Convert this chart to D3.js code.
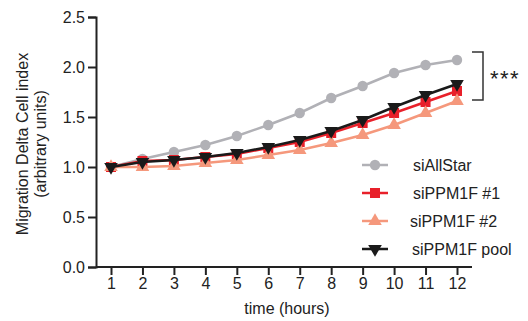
<!DOCTYPE html>
<html>
<head>
<meta charset="utf-8">
<script src="https://cdn.jsdelivr.net/npm/d3@7"></script>
<style>
  body { margin: 0; background: #fff; }
  svg text { font-family: "Liberation Sans", Arial, sans-serif; fill: #222; }
</style>
</head>
<body>
<div id="chart"></div>
<script>
var hours = [1, 2, 3, 4, 5, 6, 7, 8, 9, 10, 11, 12];
var siAllStar = [1.00, 1.08, 1.15, 1.22, 1.31, 1.42, 1.54, 1.69, 1.81, 1.94, 2.02, 2.07];
var siPPM1F_1 = [1.00, 1.06, 1.07, 1.10, 1.13, 1.19, 1.25, 1.34, 1.44, 1.54, 1.65, 1.76];
var siPPM1F_2 = [1.00, 1.00, 1.01, 1.04, 1.07, 1.12, 1.17, 1.24, 1.32, 1.42, 1.54, 1.66];
var siPPM1F_pool = [1.00, 1.05, 1.07, 1.10, 1.14, 1.20, 1.27, 1.36, 1.47, 1.60, 1.72, 1.83];
var yTicks = [0.0, 0.5, 1.0, 1.5, 2.0, 2.5];

var series = [
  {name: "siAllStar", values: siAllStar, color: "#b1b1b6", shape: "circle"},
  {name: "siPPM1F #1", values: siPPM1F_1, color: "#e8202a", shape: "square"},
  {name: "siPPM1F #2", values: siPPM1F_2, color: "#f5987c", shape: "triangle"},
  {name: "siPPM1F pool", values: siPPM1F_pool, color: "#1a1a1a", shape: "down"}
];

var WIDTH = 528, HEIGHT = 321;

var svg = d3.select("#chart").append("svg")
  .attr("width", WIDTH)
  .attr("height", HEIGHT);

var xScale = d3.scaleLinear().domain([1, 12]).range([111, 457]);
var yScale = d3.scaleLinear().domain([0, 2.5]).range([267, 17]);

// axes
var yAxis = d3.axisLeft(yScale).tickValues(yTicks).tickSize(8).tickPadding(3)
  .tickFormat(d3.format(".1f"));
var xAxis = d3.axisBottom(xScale).tickValues(hours).tickSize(8).tickPadding(3);

var gy = svg.append("g").attr("transform", "translate(96,0)").call(yAxis);
var gx = svg.append("g").attr("transform", "translate(0,267)").call(xAxis);
gx.select(".domain").attr("d", "M96,0H472");

[gx, gy].forEach(function(g) {
  g.selectAll(".domain, line").attr("stroke", "#222").attr("stroke-width", 2);
  g.selectAll("text").style("font-size", "16px").attr("fill", "#222");
});

svg.append("text")
  .attr("x", 287).attr("y", 314)
  .style("text-anchor", "middle").style("font-size", "16px")
  .text("time (hours)");

var yl = svg.append("text")
  .attr("transform", "translate(28,144) rotate(-90)")
  .style("text-anchor", "middle").style("font-size", "16px");
yl.append("tspan").attr("x", 0).attr("dy", 0).text("Migration Delta Cell index");
yl.append("tspan").attr("x", 0).attr("dy", 18).text("(arbitrary units)");

function symbolFor(shape) {
  if (shape === "circle") return d3.symbol().type(d3.symbolCircle).size(85)();
  if (shape === "square") return d3.symbol().type(d3.symbolSquare).size(100)();
  return d3.symbol().type(d3.symbolTriangle).size(80)();
}

var lineFunc = d3.line()
  .x(function(d, i) { return xScale(hours[i]); })
  .y(function(d) { return yScale(d); });

series.forEach(function(s) {
  svg.append("path")
    .attr("d", lineFunc(s.values))
    .attr("stroke", s.color)
    .attr("stroke-width", 2.5)
    .attr("fill", "none");

  svg.selectAll(null)
    .data(s.values)
    .enter().append("path")
    .attr("d", symbolFor(s.shape))
    .attr("transform", function(d, i) {
      return "translate(" + xScale(hours[i]) + "," + yScale(d) + ")" + (s.shape === "down" ? " rotate(180)" : "");
    })
    .attr("fill", s.color);
});

// legend
var legendY = [165, 193, 221, 249];
var legendX = [413, 413, 410, 412];
series.forEach(function(s, i) {
  var g = svg.append("g").attr("transform", "translate(375," + legendY[i] + ")");
  g.append("line").attr("x1", -13).attr("x2", 13)
    .attr("stroke", s.color).attr("stroke-width", 2.5);
  g.append("path").attr("d", symbolFor(s.shape))
    .attr("transform", s.shape === "down" ? "rotate(180)" : null)
    .attr("fill", s.color);
  svg.append("text")
    .attr("x", legendX[i]).attr("y", legendY[i] + 6)
    .style("font-size", "16px")
    .text(s.name);
});

// significance bracket
svg.append("path")
  .attr("d", "M472,52H483V100H472")
  .attr("fill", "none").attr("stroke", "#333").attr("stroke-width", 1.5);
svg.append("text")
  .attr("x", 490).attr("y", 86)
  .style("font-size", "22px")
  .style("letter-spacing", "1.5px")
  .text("***");
</script>
</body>
</html>
